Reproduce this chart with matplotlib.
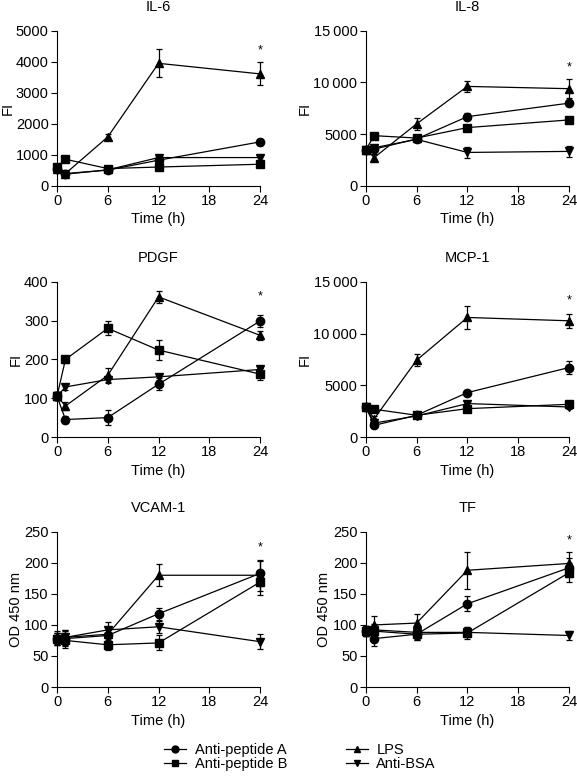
import numpy as np
import matplotlib
matplotlib.use("Agg")
import matplotlib.pyplot as plt
from matplotlib.ticker import FuncFormatter
from matplotlib.lines import Line2D

plt.rcParams['font.family'] = ['Liberation Sans', 'DejaVu Sans']
plt.rcParams['font.size'] = 10.5

# time points (h)
times = [0, 1, 6, 12, 24]

series_names = ['Anti-peptide A', 'Anti-peptide B', 'LPS', 'Anti-BSA']
series_markers = ['o', 's', '^', 'v']

panel_titles = ['IL-6', 'IL-8', 'PDGF', 'MCP-1', 'VCAM-1', 'TF']
panel_ylabels = ['FI', 'FI', 'FI', 'FI', 'OD 450 nm', 'OD 450 nm']
panel_ymax = [5000, 15000, 400, 15000, 250, 250]
panel_yticks = [
    [0, 1000, 2000, 3000, 4000, 5000],
    [0, 5000, 10000, 15000],
    [0, 100, 200, 300, 400],
    [0, 5000, 10000, 15000],
    [0, 50, 100, 150, 200, 250],
    [0, 50, 100, 150, 200, 250],
]
star_y = [4350, 11500, 363, 13200, 224, 236]

# means per panel: A, B, LPS, BSA
il6 = [[560, 400, 510, 830, 1420],
       [600, 860, 560, 610, 700],
       [560, 400, 1580, 3950, 3610],
       [550, 380, 520, 915, 915]]
il6_err = [[60, 60, 60, 80, 90],
           [60, 60, 60, 60, 80],
           [60, 60, 100, 450, 370],
           [60, 60, 60, 80, 80]]

il8 = [[3500, 3560, 4540, 6700, 8000],
       [3500, 4860, 4630, 5640, 6380],
       [3500, 2750, 6000, 9620, 9400],
       [3500, 3700, 4500, 3240, 3340]]
il8_err = [[250, 300, 250, 350, 300],
           [250, 250, 250, 250, 250],
           [250, 350, 600, 500, 900],
           [250, 300, 250, 500, 500]]

pdgf = [[105, 45, 50, 136, 299],
        [105, 200, 280, 224, 162],
        [105, 80, 159, 361, 262],
        [105, 129, 148, 155, 174]]
pdgf_err = [[10, 8, 20, 15, 15],
            [10, 10, 18, 25, 15],
            [10, 10, 18, 15, 12],
            [10, 8, 10, 8, 10]]

mcp1 = [[2900, 1130, 2100, 4290, 6710],
        [2900, 2680, 2100, 2740, 3160],
        [2900, 1770, 7420, 11550, 11230],
        [2900, 1350, 2030, 3230, 2900]]
mcp1_err = [[200, 200, 150, 200, 600],
            [200, 150, 150, 200, 200],
            [200, 300, 600, 1100, 700],
            [200, 200, 150, 250, 200]]

vcam1 = [[77, 78, 83, 118, 183],
         [77, 75, 68, 71, 169],
         [80, 80, 85, 180, 180],
         [77, 80, 92, 97, 73]]
vcam1_err = [[10, 12, 10, 10, 20],
             [10, 12, 8, 12, 20],
             [10, 12, 12, 18, 25],
             [10, 12, 12, 10, 12]]

tf = [[90, 78, 85, 134, 192],
      [90, 90, 85, 87, 184],
      [90, 100, 103, 188, 199],
      [90, 92, 88, 88, 83]]
tf_err = [[8, 12, 10, 12, 15],
          [8, 10, 10, 10, 15],
          [8, 15, 15, 30, 18],
          [8, 10, 10, 8, 8]]

panel_data = [il6, il8, pdgf, mcp1, vcam1, tf]
panel_err = [il6_err, il8_err, pdgf_err, mcp1_err, vcam1_err, tf_err]


def fmt_thousands(v, pos):
    v = int(round(v))
    if v >= 10000:
        return f"{v // 1000}\u2009{v % 1000:03d}"
    return str(v)


fig = plt.figure(figsize=(5.77, 7.84), dpi=100)

lefts = [0.0988, 0.634]
bottoms = [0.7628, 0.4426, 0.1237]
w, h = 0.352, 0.198

for i in range(6):
    r, c = divmod(i, 2)
    ax = fig.add_axes([lefts[c], bottoms[r], w, h])
    for k in range(4):
        eb = ax.errorbar(times, panel_data[i][k], yerr=panel_err[i][k],
                         marker=series_markers[k], color='black', ms=6,
                         lw=0.9, elinewidth=0.9, capsize=2.5, capthick=0.9,
                         clip_on=False, zorder=3)
        for art in eb.get_children():
            art.set_clip_on(False)
    ax.set_xlim(0, 24)
    ax.set_ylim(0, panel_ymax[i])
    ax.set_xticks([0, 6, 12, 18, 24])
    ax.set_yticks(panel_yticks[i])
    ax.yaxis.set_major_formatter(FuncFormatter(fmt_thousands))
    ax.spines['top'].set_visible(False)
    ax.spines['right'].set_visible(False)
    ax.tick_params(direction='out', length=4, width=0.8, labelsize=10.5, pad=2)
    ax.set_title(panel_titles[i], fontsize=10.5, pad=14)
    ax.set_ylabel(panel_ylabels[i], fontsize=10.5, labelpad=1)
    ax.set_xlabel('Time (h)', fontsize=10.5, labelpad=3)
    ax.text(24, star_y[i], '*', ha='center', va='center', fontsize=9)

handles = [Line2D([], [], color='black', marker=m, ms=5, lw=0.9)
           for m in series_markers]
fig.legend(handles, series_names, loc='lower center', ncol=2, frameon=False,
           bbox_to_anchor=(0.52, 0.0), fontsize=10.5, handlelength=1.5,
           columnspacing=4.0, labelspacing=0.0, handletextpad=0.6)

fig.savefig('out.png', dpi=100)
